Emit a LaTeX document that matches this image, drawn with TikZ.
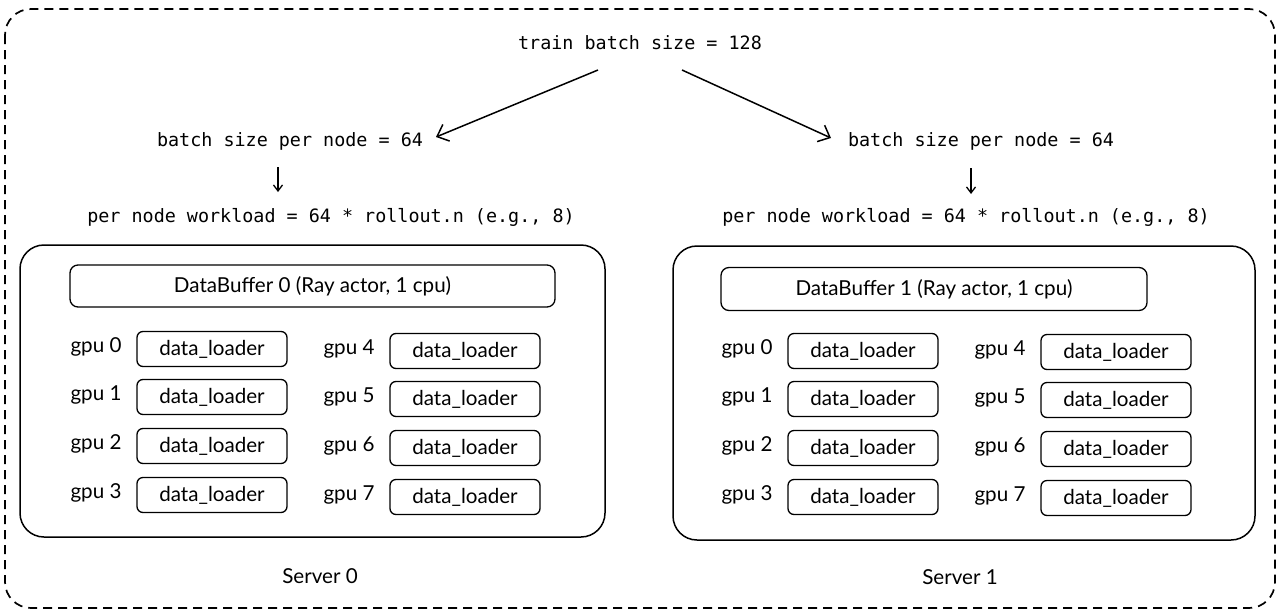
\documentclass[tikz,border=0pt]{standalone}
\usepackage{fontspec}
\setmainfont{Lato}
\setmonofont{DejaVu Sans Mono}
\usetikzlibrary{arrows.meta}
\begin{document}
\begin{tikzpicture}[x=1pt,y=-1pt,
  line width=1.5pt,
  mono/.style={font=\ttfamily\fontsize{18.4}{21}\selectfont, inner sep=0pt},
  sans/.style={font=\fontsize{20.6}{24}\selectfont, inner sep=0pt},
  server/.style={draw, rounded corners=24pt},
  bufbox/.style={draw, rounded corners=8pt, line width=1.3pt},
  loader/.style={draw, rounded corners=6pt, line width=1.3pt, minimum width=150pt, minimum height=35pt, font=\fontsize{20.6}{24}\selectfont, inner sep=0pt},
  arr/.style={-{Straight Barb[length=10pt,width=18pt]}, line width=1.5pt},
  sarr/.style={-{Straight Barb[length=6pt,width=9pt]}, line width=1.3pt}
]
\useasboundingbox (0,0) rectangle (1280,614);
\draw[dashed, dash pattern=on 9pt off 6pt, line width=1.7pt, rounded corners=26pt] (5,9) rectangle (1275,608);

\node[mono] (top) at (640,43) {train batch size = 128};
\node[mono] (bl) at (290,141) {batch size per node = 64};
\node[mono] (br) at (981,141) {batch size per node = 64};
\coordinate (t1) at (598,70);
\coordinate (t2) at (682,70);
\coordinate (e1) at (436,137);
\coordinate (e2) at (831,138);
\draw[arr] (t1) -- (e1);
\draw[arr] (t2) -- (e2);

\node[mono] (wl) at (331,217) {per node workload = 64 * rollout.n (e.g., 8)};
\node[mono] (wr) at (966,217) {per node workload = 64 * rollout.n (e.g., 8)};
\coordinate (al1) at (278,167); \coordinate (al2) at (278,192);
\coordinate (ar1) at (971,168); \coordinate (ar2) at (971,194);
\draw[sarr] (al1) -- (al2);
\draw[sarr] (ar1) -- (ar2);

% Server 0
\draw[server] (20,245) rectangle (605,537);
\node[bufbox, minimum width=485pt, minimum height=42pt, sans] (db0) at (312.5,286) {DataBuffer 0 (Ray actor, 1 cpu)};
\foreach \i/\y in {0/349,1/397,2/446,3/495}{
  \node[loader] (l0\i) at (212,\y) {data\_loader};
  \node[sans] (g0\i) at (96,\y-2) {gpu \i};
}
\foreach \i/\y in {4/351,5/399,6/448,7/497}{
  \node[loader] (r0\i) at (465,\y) {data\_loader};
  \node[sans] (g0\i) at (349,\y-2) {gpu \i};
}
\node[sans] (s0) at (320,576) {Server 0};

% Server 1
\draw[server] (673,246) rectangle (1255,540);
\node[bufbox, minimum width=426pt, minimum height=43pt, sans] (db1) at (934,289) {DataBuffer 1 (Ray actor, 1 cpu)};
\foreach \i/\y in {0/351,1/399,2/448,3/497}{
  \node[loader] (l1\i) at (863,\y) {data\_loader};
  \node[sans] (h1\i) at (747,\y-2) {gpu \i};
}
\foreach \i/\y in {4/352,5/400,6/449,7/498}{
  \node[loader] (r1\i) at (1116,\y) {data\_loader};
  \node[sans] (h1\i) at (1000,\y-2) {gpu \i};
}
\node[sans] (s1) at (960,577) {Server 1};
\end{tikzpicture}
\end{document}
